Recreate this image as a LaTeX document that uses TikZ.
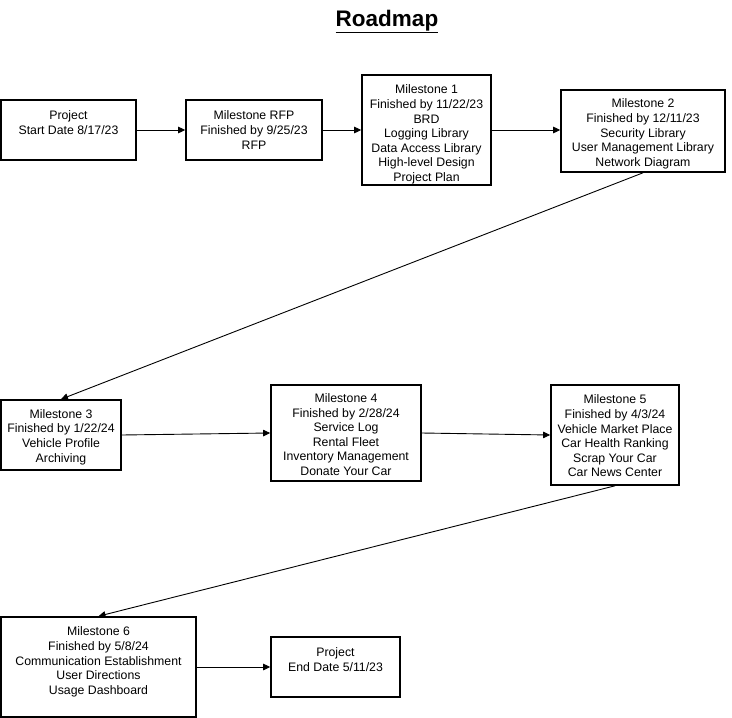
\documentclass[tikz,border=0pt]{standalone}
\usepackage{fontspec}
\setmainfont{Liberation Sans}
\usetikzlibrary{arrows.meta}
\begin{document}
\begin{tikzpicture}[x=1pt,y=-1pt,
  box/.style={draw=black, line width=1.6pt, rectangle, inner sep=0pt},
  boxtext/.style={inner sep=0pt, align=center,
    font=\fontsize{12.3}{14.6}\selectfont},
  link/.style={draw=black, line width=0.9pt,
    -{Triangle[length=7pt,width=6.5pt]}}]
\useasboundingbox (0,0) rectangle (732,718);

% title
\node (title) at (387,21.5) {\fontsize{22.5}{26}\selectfont\bfseries\underline{Roadmap}};

% first row: frames
\node[box, minimum width=135pt, minimum height=60pt] (start) at (68.5,130) {};
\node[box, minimum width=136pt, minimum height=60pt] (rfp) at (254,130) {};
\node[box, minimum width=129pt, minimum height=110pt] (m1) at (426.5,130) {};
\node[box, minimum width=164pt, minimum height=82pt] (m2) at (643,131) {};
% first row: texts
\node[boxtext] (startt) at (start.center)
  {Project\\Start Date 8/17/23\\\mbox{}};
\node[boxtext] (rfpt) at (rfp.center)
  {Milestone RFP\\Finished by 9/25/23\\RFP};
\node[boxtext] (m1t) at ([yshift=-4.5pt]m1.center)
  {Milestone 1\\Finished by 11/22/23\\BRD\\Logging Library\\Data Access Library\\High-level Design\\Project Plan};
\node[boxtext] (m2t) at ([yshift=-3pt]m2.center)
  {Milestone 2\\Finished by 12/11/23\\Security Library\\User Management Library\\Network Diagram};

% second row
\node[box, minimum width=120pt, minimum height=70pt] (m3) at (61,435) {};
\node[box, minimum width=150pt, minimum height=96pt] (m4) at (346,433) {};
\node[box, minimum width=128pt, minimum height=100pt] (m5) at (615,435) {};
\node[boxtext] (m3t) at ([yshift=-2pt]m3.center)
  {Milestone 3\\Finished by 1/22/24\\Vehicle Profile\\Archiving};
\node[boxtext] (m4t) at ([yshift=-1.5pt]m4.center)
  {Milestone 4\\Finished by 2/28/24\\Service Log\\Rental Fleet\\Inventory Management\\Donate Your Car};
\node[boxtext] (m5t) at ([yshift=-1pt]m5.center)
  {Milestone 5\\Finished by 4/3/24\\Vehicle Market Place\\Car Health Ranking\\Scrap Your Car\\Car News Center};

% third row
\node[box, minimum width=195pt, minimum height=100pt] (m6) at (98.5,667) {};
\node[box, minimum width=129pt, minimum height=60pt] (end) at (335.5,667) {};
\node[boxtext] (m6t) at ([yshift=-1pt]m6.center)
  {Milestone 6\\Finished by 5/8/24\\Communication Establishment\\User Directions\\Usage Dashboard\\\mbox{}};
\node[boxtext] (endt) at (end.center)
  {Project\\End Date 5/11/23\\\mbox{}};

% connectors
\draw[link] (start.east) -- (rfp.west);
\draw[link] (rfp.east) -- (m1.west);
\draw[link] (m1.east) -- (m1.east -| m2.west);
\draw[link] (m2.south) -- (m3.north);
\draw[link] (m3.east) -- (m4.west);
\draw[link] (m4.east) -- (m5.west);
\draw[link] (m5.south) -- (m6.north);
\draw[link] (m6.east) -- (end.west);
\end{tikzpicture}
\end{document}
